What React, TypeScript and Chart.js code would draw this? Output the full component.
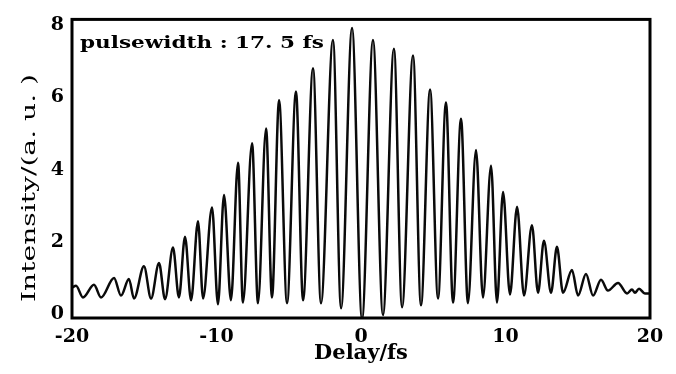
import React, { useEffect, useRef } from "react";
import { Chart, registerables } from "chart.js";

Chart.register(...registerables);

// Delay (fs) of the read-off turning points of the trace
const delay = [
  -20.0, -19.72, -19.24, -18.48, -17.99, -17.09, -16.61, -16.06, -15.71, -15.02,
  -14.53, -13.98, -13.56, -13.01, -12.6, -12.18, -11.76, -11.28, -10.93, -10.31,
  -9.9, -9.48, -9.0, -8.51, -8.17, -7.54, -7.13, -6.57, -6.16, -5.67,
  -5.12, -4.5, -4.01, -3.32, -2.77, -1.94, -1.38, -0.62, 0.07, 0.83,
  1.52, 2.28, 2.84, 3.6, 4.15, 4.78, 5.33, 5.88, 6.37, 6.92,
  7.4, 7.96, 8.44, 9.0, 9.41, 9.83, 10.31, 10.8, 11.28, 11.83,
  12.25, 12.66, 13.15, 13.56, 13.98, 14.6, 15.02, 15.57, 16.06, 16.61,
  17.09, 17.79, 18.41, 18.75, 18.96, 19.24, 19.65, 19.93,
];

// Intensity (a.u.) at those delays
const intensity = [
  0.73, 0.78, 0.46, 0.81, 0.46, 1.0, 0.51, 0.97, 0.43, 1.32,
  0.43, 1.41, 0.41, 1.84, 0.46, 2.14, 0.38, 2.57, 0.43, 2.95,
  0.27, 3.3, 0.38, 4.19, 0.32, 4.73, 0.3, 5.14, 0.46, 5.92,
  0.3, 6.16, 0.38, 6.81, 0.3, 7.59, 0.16, 7.92, -0.14, 7.59,
  -0.03, 7.35, 0.19, 7.16, 0.24, 6.22, 0.43, 5.86, 0.32, 5.41,
  0.3, 4.54, 0.46, 4.11, 0.32, 3.38, 0.54, 2.97, 0.51, 2.46,
  0.59, 2.03, 0.59, 1.86, 0.59, 1.22, 0.51, 1.11, 0.51, 0.95,
  0.65, 0.86, 0.57, 0.68, 0.59, 0.7, 0.57, 0.57,
];

const xTicks = [-20, -10, 0, 10, 20];
const yTicks = [0, 2, 4, 6, 8];
const xTickLabels = ["-20", "-10", "0", "10", "20"];
const yTickLabels = ["0", "2", "4", "6", "8"];
const annotation = "pulsewidth : 17. 5 fs";
const yTitle = "Intensity/(a. u. )";
const xTitle = "Delay/fs";

const SERIF = "'DejaVu Serif', 'Liberation Serif', serif";

function fittedText(ctx: any, text: string, width: number) {
  const w = ctx.measureText(text).width;
  ctx.scale(width / w, 1);
  ctx.fillText(text, 0, 0);
}

export default function App() {
  const ref = useRef<HTMLCanvasElement | null>(null);

  useEffect(() => {
    document.body.style.margin = "0";
    const canvas = ref.current;
    if (!canvas) return;

    const framePlugin = {
      id: "frameAndNote",
      afterDraw(chart: any) {
        const { ctx, chartArea } = chart;
        ctx.save();
        ctx.strokeStyle = "#000";
        ctx.lineWidth = 3;
        ctx.strokeRect(
          chartArea.left,
          chartArea.top,
          chartArea.right - chartArea.left,
          chartArea.bottom - chartArea.top
        );
        ctx.fillStyle = "#000";
        // annotation
        ctx.save();
        ctx.font = `bold 17px ${SERIF}`;
        ctx.textBaseline = "alphabetic";
        ctx.textAlign = "left";
        ctx.translate(chartArea.left + 8, chartArea.top + 29);
        fittedText(ctx, annotation, 244);
        ctx.restore();
        // y-axis title
        ctx.save();
        ctx.font = `18px ${SERIF}`;
        ctx.textBaseline = "middle";
        ctx.textAlign = "left";
        ctx.translate(30, 302);
        ctx.rotate(-Math.PI / 2);
        fittedText(ctx, yTitle, 228);
        ctx.restore();
        ctx.restore();
      },
    };

    const chart = new Chart(canvas, {
      type: "line",
      data: {
        datasets: [
          {
            data: delay.map((x, i) => ({ x, y: intensity[i] })),
            borderColor: "#0a0a0a",
            borderWidth: 2.5,
            pointRadius: 0,
            fill: false,
            cubicInterpolationMode: "monotone",
          },
        ],
      },
      options: {
        animation: false,
        responsive: false,
        layout: { padding: { left: 0, right: 26, top: 12, bottom: 4 } },
        plugins: { legend: { display: false }, tooltip: { enabled: false } },
        scales: {
          x: {
            type: "linear",
            min: -20,
            max: 20,
            grid: { display: false, drawTicks: false },
            border: { display: false },
            afterBuildTicks: (s: any) => {
              s.ticks = xTicks.map((v) => ({ value: v }));
            },
            afterFit: (s: any) => {
              s.height = 52;
            },
            ticks: {
              padding: 8,
              color: "#000",
              maxRotation: 0,
              font: { family: SERIF, size: 19, weight: "bold" },
              callback: (v: any) => xTickLabels[xTicks.indexOf(Number(v))] ?? "",
            },
            title: {
              display: true,
              text: xTitle,
              color: "#000",
              font: { family: SERIF, size: 21, weight: "bold" },
            },
          },
          y: {
            type: "linear",
            min: -0.11,
            max: 8.16,
            grid: { display: false, drawTicks: false },
            border: { display: false },
            afterBuildTicks: (s: any) => {
              s.ticks = yTicks.map((v) => ({ value: v }));
            },
            afterFit: (s: any) => {
              s.width = 72;
            },
            ticks: {
              padding: 8,
              color: "#000",
              font: { family: SERIF, size: 19, weight: "bold" },
              callback: (v: any) => yTickLabels[yTicks.indexOf(Number(v))] ?? "",
            },
          },
        },
      },
      plugins: [framePlugin],
    } as any);

    return () => chart.destroy();
  }, []);

  return (
    <div style={{ position: "fixed", left: 0, top: 0, width: 676, height: 374, background: "#fff" }}>
      <canvas ref={ref} width={676} height={374} style={{ width: 676, height: 374 }} />
    </div>
  );
}
